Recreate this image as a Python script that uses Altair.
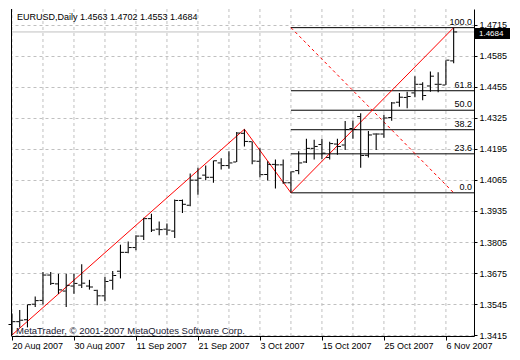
import altair as alt
import pandas as pd

symbol = "EURUSD,Daily"
opens = [1.3460, 1.3472, 1.3480, 1.3545, 1.3561, 1.3667, 1.3630, 1.3600, 1.3621, 1.3625,
         1.3621, 1.3603, 1.3580, 1.3645, 1.3683, 1.3762, 1.3782, 1.3830, 1.3903, 1.3859,
         1.3859, 1.3851, 1.3979, 1.3959, 1.4064, 1.4085, 1.4076, 1.4136, 1.4125, 1.4140,
         1.4260, 1.4225, 1.4143, 1.4088, 1.4130, 1.4128, 1.4053, 1.4104, 1.4140, 1.4197,
         1.4213, 1.4159, 1.4215, 1.4211, 1.4280, 1.4330, 1.4168, 1.4257, 1.4257, 1.4326,
         1.4390, 1.4410, 1.4429, 1.4465, 1.4458, 1.4465, 1.4462, 1.4563]
highs = [1.3506, 1.3521, 1.3544, 1.3577, 1.3680, 1.3680, 1.3672, 1.3672, 1.3672, 1.3712,
         1.3647, 1.3605, 1.3660, 1.3684, 1.3794, 1.3807, 1.3834, 1.3907, 1.3923, 1.3891,
         1.3883, 1.3983, 1.3983, 1.4092, 1.4116, 1.4125, 1.4146, 1.4156, 1.4185, 1.4265,
         1.4277, 1.4226, 1.4197, 1.4143, 1.4150, 1.4150, 1.4100, 1.4185, 1.4237, 1.4233,
         1.4237, 1.4225, 1.4237, 1.4311, 1.4314, 1.4344, 1.4270, 1.4260, 1.4338, 1.4391,
         1.4429, 1.4434, 1.4499, 1.4474, 1.4519, 1.4515, 1.4566, 1.4702]
lows = [1.3416, 1.3448, 1.3448, 1.3533, 1.3544, 1.3625, 1.3588, 1.3533, 1.3589, 1.3613,
        1.3606, 1.3541, 1.3557, 1.3606, 1.3653, 1.3758, 1.3771, 1.3814, 1.3847, 1.3834,
        1.3834, 1.3822, 1.3927, 1.3955, 1.4003, 1.4064, 1.4053, 1.4109, 1.4112, 1.4140,
        1.4205, 1.4130, 1.4076, 1.4063, 1.4029, 1.4049, 1.4011, 1.4089, 1.4136, 1.4150,
        1.4153, 1.4150, 1.4170, 1.4190, 1.4237, 1.4116, 1.4159, 1.4190, 1.4241, 1.4313,
        1.4371, 1.4365, 1.4411, 1.4398, 1.4434, 1.4432, 1.4462, 1.4553]
closes = [1.3472, 1.3478, 1.3543, 1.3560, 1.3667, 1.3632, 1.3605, 1.3624, 1.3632, 1.3633,
          1.3617, 1.3580, 1.3640, 1.3665, 1.3762, 1.3782, 1.3830, 1.3903, 1.3855, 1.3857,
          1.3855, 1.3979, 1.3963, 1.4064, 1.4072, 1.4076, 1.4145, 1.4125, 1.4136, 1.4261,
          1.4226, 1.4144, 1.4087, 1.4130, 1.4128, 1.4053, 1.4099, 1.4136, 1.4197, 1.4205,
          1.4177, 1.4217, 1.4205, 1.4276, 1.4276, 1.4167, 1.4253, 1.4257, 1.4324, 1.4387,
          1.4411, 1.4414, 1.4465, 1.4418, 1.4499, 1.4465, 1.4566, 1.4684]

x_tick_idx = [0, 8, 16, 24, 32, 40, 48, 56]
x_tick_labels = ["20 Aug 2007", "30 Aug 2007", "11 Sep 2007", "21 Sep 2007",
                 "3 Oct 2007", "15 Oct 2007", "25 Oct 2007", "6 Nov 2007"]
x_grid_idx = [0, 4, 8, 12, 16, 20, 24, 28, 32, 36, 40, 44, 48, 52, 56]
y_ticks = [1.3415, 1.3545, 1.3675, 1.3805, 1.3935, 1.4065, 1.4195,
           1.4325, 1.4455, 1.4585, 1.4715]

zigzag_idx = [0, 30, 36, 57]
zigzag_price = [1.3416, 1.4277, 1.4011, 1.4702]

fib_levels = [0.0, 23.6, 38.2, 50.0, 61.8, 100.0]
fib_start_idx = 36
fib_end_idx = 57
fib_low = 1.4011
fib_high = 1.4702
bid = 1.4684
copyright_text = "MetaTrader, \u00a9 2001-2007 MetaQuotes Software Corp."

# ---- layout ----
W, H = 463, 327
XDOM = [-0.125, 59.625]
YDOM = [1.3412, 1.4780]
FONT = "Liberation Sans"
GRID = "#c0c0c0"

n = len(opens)
bars = pd.DataFrame({"i": list(range(n)), "o": opens, "h": highs, "l": lows, "c": closes})
grid_df = pd.DataFrame({"i": x_grid_idx})
zig_df = pd.DataFrame({"i": zigzag_idx, "p": zigzag_price})
fib_df = pd.DataFrame({
    "lev": fib_levels,
    "p": [fib_low + (fib_high - fib_low) * lv / 100 for lv in fib_levels],
    "lab": [f"{lv:.1f}" for lv in fib_levels],
    "i": [fib_start_idx] * len(fib_levels),
})
trend_df = pd.DataFrame({"i": [fib_start_idx, fib_end_idx], "p": [fib_high, fib_low]})
bid_df = pd.DataFrame({"p": [bid], "t": [f"{bid:.4f}"]})
header_df = pd.DataFrame({"t": [f"{symbol}  {opens[-1]:.4f} {highs[-1]:.4f} {lows[-1]:.4f} {closes[-1]:.4f}"]})
copy_df = pd.DataFrame({"t": [copyright_text]})

labels_js = "[" + ",".join(f"'{s}'" for s in x_tick_labels) + "]"
idx_js = "[" + ",".join(str(v) for v in x_tick_idx) + "]"

xscale = alt.Scale(domain=XDOM, nice=False, zero=False)
yscale = alt.Scale(domain=YDOM, nice=False, zero=False)
xaxis = alt.Axis(values=x_tick_idx, labelExpr=f"{labels_js}[indexof({idx_js}, datum.value)]",
                 labelAlign="left", labelPadding=1, tickSize=4, tickColor="black",
                 domainColor="black", grid=False, title=None, labelFont=FONT,
                 labelFontSize=9, labelColor="black", labelFlush=False, labelOverlap=False)
yaxis = alt.Axis(orient="right", values=y_ticks, format=".4f", tickSize=3, tickColor="black",
                 domainColor="black", labelPadding=2, labelFont=FONT, labelFontSize=9,
                 labelColor="black", grid=True, gridColor=GRID, gridDash=[3, 3],
                 title=None, labelOverlap=False, labelFlush=False)


def X(f):
    return alt.X(f, type="quantitative", scale=xscale, axis=xaxis)


def Y(f):
    return alt.Y(f, type="quantitative", scale=yscale, axis=yaxis)


xgrid = alt.Chart(grid_df).mark_rule(color=GRID, strokeDash=[3, 3]).encode(x=X("i"))
bidline = alt.Chart(bid_df).mark_rule(color=GRID).encode(
    y=Y("p"), x=alt.value(0), x2=alt.value(W))
fiblines = alt.Chart(fib_df).mark_rule(color="black").encode(
    x=X("i"), x2=alt.value(W), y=Y("p"))
fibtext = alt.Chart(fib_df).mark_text(align="right", baseline="bottom", dy=-1, font=FONT,
                                      fontSize=9, color="black").encode(
    x=alt.value(W - 2), y=Y("p"), text="lab:N")
trend = alt.Chart(trend_df).mark_line(color="red", strokeDash=[3, 3], strokeWidth=1).encode(
    x=X("i"), y=Y("p"))
zig = alt.Chart(zig_df).mark_line(color="red", strokeWidth=1).encode(x=X("i"), y=Y("p"))
hl = alt.Chart(bars).mark_rule(color="black", strokeWidth=1.1).encode(
    x=X("i"), y=Y("l"), y2="h:Q")
otick = alt.Chart(bars).mark_tick(orient="horizontal", size=3, thickness=1, xOffset=-2,
                                  color="black", opacity=1).encode(x=X("i"), y=Y("o"))
ctick = alt.Chart(bars).mark_tick(orient="horizontal", size=3, thickness=1, xOffset=2,
                                  color="black", opacity=1).encode(x=X("i"), y=Y("c"))
box = alt.Chart(bid_df).mark_tick(orient="horizontal", size=35, thickness=11, color="black",
                                  opacity=1, yOffset=1.5).encode(x=alt.value(W + 18.5), y=Y("p"))
boxtext = alt.Chart(bid_df).mark_text(align="left", baseline="middle", font=FONT, fontSize=8,
                                      dy=2, color="white").encode(
    x=alt.value(W + 5), y=Y("p"), text="t:N")
leftborder = alt.Chart(bid_df).mark_rule(color="black").encode(x=alt.value(0.5))
header = alt.Chart(header_df).mark_text(align="left", baseline="alphabetic", font=FONT,
                                        fontSize=9, color="black").encode(
    x=alt.value(6), y=alt.value(11), text="t:N")
copyr = alt.Chart(copy_df).mark_text(align="left", baseline="alphabetic", font=FONT,
                                     fontSize=9.5, color="#1a1a33").encode(
    x=alt.value(5), y=alt.value(H - 2), text="t:N")

chart = alt.layer(
    xgrid, bidline, fiblines, fibtext, trend, zig, hl, otick, ctick,
    box, boxtext, leftborder, header, copyr
).properties(width=W, height=H, padding=0, background="white").configure_view(stroke=None)

chart.save("out.html", embed_options={"renderer": "svg", "actions": False})
